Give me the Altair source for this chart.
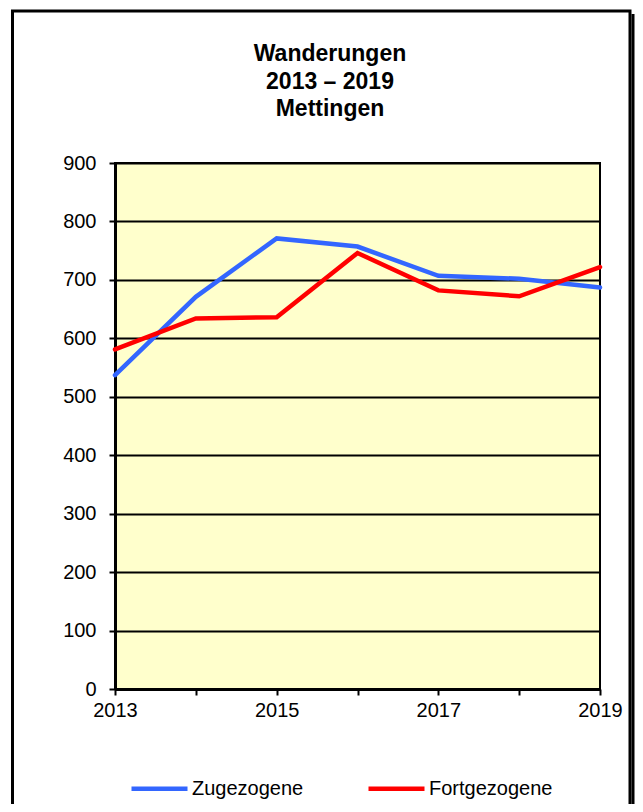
import altair as alt
import pandas as pd

years = [2013, 2014, 2015, 2016, 2017, 2018, 2019]
zugezogene = [537, 671, 771, 757, 707, 702, 687]
fortgezogene = [581, 634, 636, 746, 682, 672, 722]
series_names = ["Zugezogene", "Fortgezogene"]
series_colors = ["#3366FF", "#FF0000"]
title_lines = ["Wanderungen", "2013 – 2019", "Mettingen"]
y_ticks = [0, 100, 200, 300, 400, 500, 600, 700, 800, 900]

rows = []
for i, y in enumerate(years):
    rows.append({"Jahr": y, "Wert": zugezogene[i], "Reihe": series_names[0]})
    rows.append({"Jahr": y, "Wert": fortgezogene[i], "Reihe": series_names[1]})
df = pd.DataFrame(rows)

FONT = "Liberation Sans"

lines = alt.Chart(df).mark_line(strokeWidth=4.5, strokeCap="round", strokeJoin="miter").encode(
    x=alt.X("Jahr:Q",
            scale=alt.Scale(domain=[2013, 2019], nice=False, zero=False),
            axis=alt.Axis(values=years, format="d", title=None, grid=False,
                          labelExpr="datum.value % 2 == 1 ? datum.label : ''",
                          labelFlush=False, labelOverlap=False, labelBound=False,
                          tickSize=6, tickWidth=2, tickColor="black",
                          domainColor="black", domainWidth=3,
                          labelFont=FONT, labelFontSize=20, labelColor="black",
                          labelPadding=5)),
    y=alt.Y("Wert:Q",
            scale=alt.Scale(domain=[0, 900], nice=False),
            axis=alt.Axis(values=y_ticks, title=None, grid=True,
                          gridColor="black", gridWidth=2, gridOpacity=1,
                          tickSize=6, tickWidth=2, tickColor="black",
                          domainColor="black", domainWidth=3,
                          labelFont=FONT, labelFontSize=20, labelColor="black",
                          labelPadding=13)),
    color=alt.Color("Reihe:N",
                    scale=alt.Scale(domain=series_names, range=series_colors),
                    sort=series_names,
                    legend=alt.Legend(title=None, orient="none", direction="horizontal",
                                      legendX=14, legendY=595,
                                      symbolType="stroke", symbolSize=3136,
                                      symbolStrokeWidth=4.5,
                                      labelFont=FONT, labelFontSize=20, labelColor="black",
                                      labelOffset=2, columnPadding=55, padding=0)),
)

one_df = pd.DataFrame({"k": [0]})
frame = alt.Chart(one_df).mark_rect(filled=False, stroke="black", strokeWidth=3, clip=False).encode(
    x=alt.value(-102.5), x2=alt.value(515),
    y=alt.value(-152), y2=alt.value(700),
)
shadow = alt.Chart(one_df).mark_rule(stroke="black", strokeWidth=3, clip=False).encode(
    x=alt.value(518), y=alt.value(-149), y2=alt.value(700),
)
title = alt.Chart(one_df).mark_text(
    text=title_lines, font=FONT, fontSize=23, fontWeight="bold", color="black",
    lineHeight=27.5, align="center", baseline="alphabetic", clip=False,
).encode(x=alt.value(215), y=alt.value(-102))

chart = alt.layer(frame, shadow, title, lines).properties(
    width=485, height=526,
    autosize=alt.AutoSizeParams(type="none"),
    padding={"left": 107, "top": 155, "right": 35, "bottom": 115},
).configure(background="white").configure_view(fill="#FFFFCC", stroke="black", strokeWidth=2)

chart.save("out.html", embed_options={"renderer": "svg", "actions": False})
